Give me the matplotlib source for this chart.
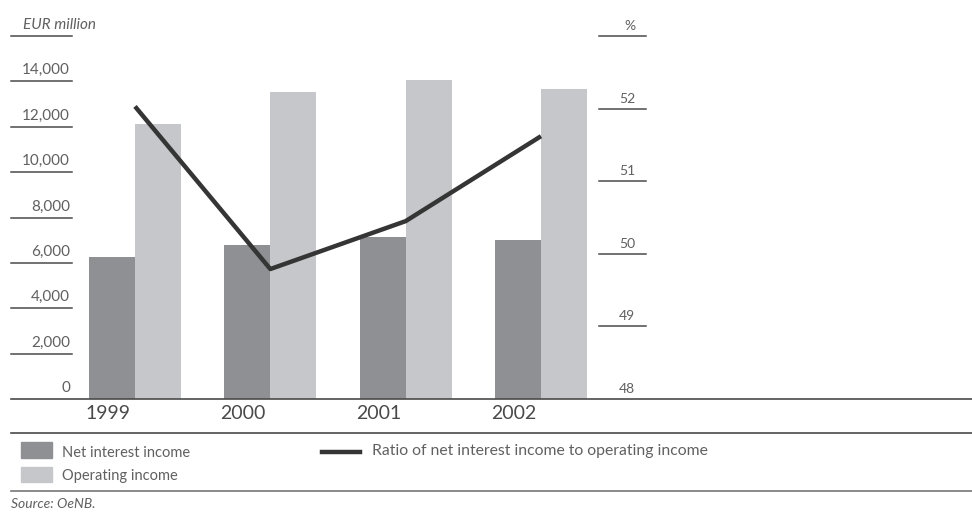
import matplotlib.pyplot as plt
import matplotlib.transforms as mtransforms
from matplotlib.patches import Rectangle
from matplotlib.lines import Line2D
import numpy as np

plt.rcParams['font.family'] = ['Lato', 'DejaVu Sans']

years = ['1999', '2000', '2001', '2002']
net_interest = [6250, 6800, 7130, 7000]          # EUR million
operating_income = [12130, 13520, 14050, 13650]  # EUR million
ratio = [52.03, 49.79, 50.45, 51.62]             # %

left_ticks = [0, 2000, 4000, 6000, 8000, 10000, 12000, 14000]
right_ticks = [48, 49, 50, 51, 52]

DARK = '#8e9094'
LIGHT = '#c6c7cb'
LINE = '#353535'
TXT = '#606060'
RULE = '#4a4a4a'

W, H = 972, 513
fig = plt.figure(figsize=(W / 100, H / 100), dpi=100)


def fx(x):
    return x / W


def fy(y):
    return 1 - y / H


ax = fig.add_axes([fx(11), fy(399), (972 - 11) / W, (399 - 36) / H])
ax2 = ax.twinx()

x = np.arange(len(years))
w = 0.34
ax.bar(x - w / 2, net_interest, w, color=DARK, zorder=2)
ax.bar(x + w / 2, operating_income, w, color=LIGHT, zorder=2)
ax.set_xlim(-0.9163, 6.185)
ax.set_ylim(0, 16000)
ax2.set_ylim(48, 53)
ax2.plot(x, ratio, color=LINE, lw=3.2, solid_capstyle='butt', zorder=3)

for a in (ax, ax2):
    for s in ('top', 'left', 'right'):
        a.spines[s].set_visible(False)
    a.set_yticks([])
ax2.spines['bottom'].set_visible(False)
ax.spines['bottom'].set_color(RULE)
ax.spines['bottom'].set_linewidth(1.2)
# year labels sit under the left bar of each pair
ax.set_xticks(x - w / 2 - 0.03)
ax.set_xticklabels(years)
ax.tick_params(axis='x', length=0, pad=4, labelsize=14, labelcolor='#4a4a4a')

# left scale: short rules with labels sitting above them
lt = mtransforms.offset_copy(ax.get_yaxis_transform(), fig=fig, y=4, units='dots')
for v in left_ticks[1:] + [16000]:
    ax.axhline(v, xmin=0, xmax=(72 - 11) / 961, color=RULE, lw=1.1, clip_on=False)
for v in left_ticks:
    ax.text((70 - 11) / 961, v, f'{v:,}', transform=lt, ha='right', va='bottom',
            fontsize=11, color=TXT)
ax.text((23 - 11) / 961, 16000, 'EUR million', transform=lt, ha='left', va='bottom',
        fontsize=11, style='italic', color=TXT)

# right scale for the ratio
rt = mtransforms.offset_copy(ax2.get_yaxis_transform(), fig=fig, y=4, units='dots')
for v in right_ticks[1:] + [53]:
    ax2.axhline(v, xmin=(599 - 11) / 961, xmax=(646 - 11) / 961, color=RULE, lw=1.1,
                clip_on=False)
for v in right_ticks:
    ax2.text((635 - 11) / 961, v, str(v), transform=rt, ha='right', va='bottom',
             fontsize=10, color=TXT)
ax2.text((635 - 11) / 961, 53, '%', transform=rt, ha='right', va='bottom',
         fontsize=10, color=TXT)

# legend block and source
fig.add_artist(Line2D([fx(11), fx(972)], [fy(433), fy(433)], color=RULE, lw=1.2))
fig.add_artist(Line2D([fx(11), fx(972)], [fy(491), fy(491)], color='#777777', lw=1.2))
fig.add_artist(Rectangle((fx(21), fy(458)), fx(31), 16 / H, color=DARK))
fig.add_artist(Rectangle((fx(21), fy(482)), fx(31), 15 / H, color=LIGHT))
fig.text(fx(62), fy(453), 'Net interest income', fontsize=10.5, color=TXT, va='center')
fig.text(fx(62), fy(476), 'Operating income', fontsize=10.5, color=TXT, va='center')
fig.add_artist(Line2D([fx(322), fx(360)], [fy(452), fy(452)], color=LINE, lw=3.2))
fig.text(fx(372), fy(451), 'Ratio of net interest income to operating income',
         fontsize=11.3, color=TXT, va='center')
fig.text(fx(11), fy(504), 'Source: OeNB.', fontsize=10, style='italic', color=TXT,
         va='center')

fig.savefig('out.png', dpi=100)
